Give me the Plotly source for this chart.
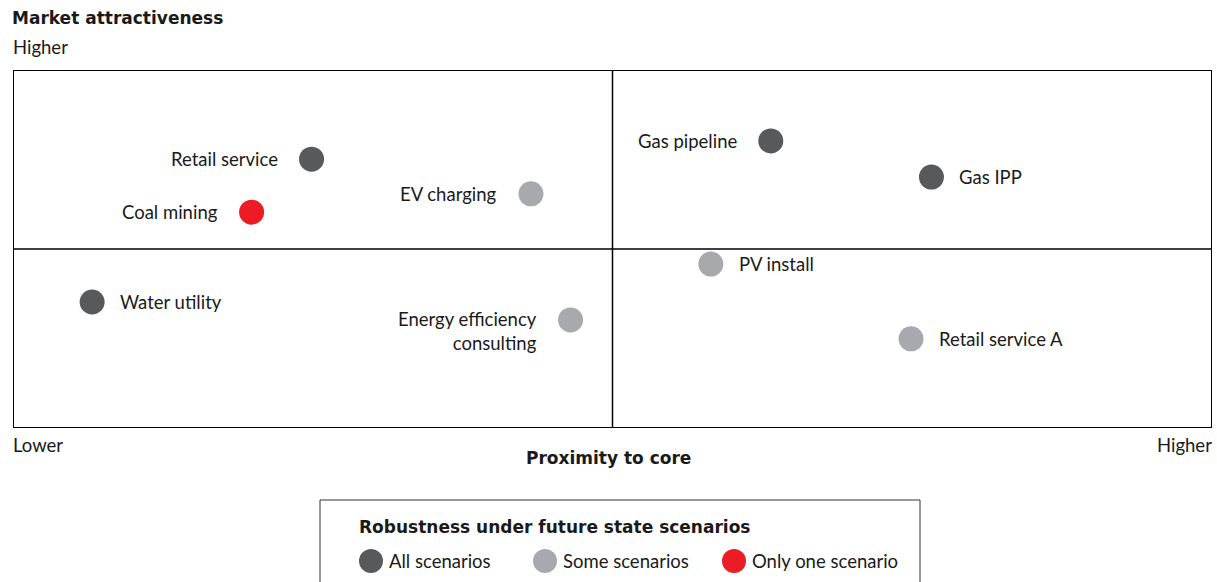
import plotly.graph_objects as go

# ---- data ----
names = ["Retail service", "Coal mining", "EV charging", "Gas pipeline", "Gas IPP",
         "Water utility", "Energy efficiency<br>consulting", "PV install", "Retail service A"]
proximity = [24.9, 19.9, 43.2, 63.2, 76.6, 6.6, 46.5, 58.2, 74.9]
attractiveness = [75.1, 60.3, 65.4, 80.2, 70.1, 35.2, 30.2, 45.8, 24.9]
robustness = ["All", "Only one", "Some", "All", "All", "All", "Some", "Some", "Some"]
label_side = ["left", "left", "left", "left", "right", "right", "left", "right", "right"]

legend_keys = ["All", "Some", "Only one"]
legend_labels = ["All scenarios", "Some scenarios", "Only one scenario"]

colors = {"All": "#58595b", "Some": "#a7a9ac", "Only one": "#ed1c24"}

W, H = 1217, 582
FONT = "Lato"
BOLD = "DejaVu Sans"
TXT = "#1a1a1a"
FS = 18.5

fig = go.Figure()

fig.add_trace(go.Scatter(
    x=proximity, y=attractiveness, mode="markers",
    marker=dict(size=25, color=[colors[r] for r in robustness], line=dict(width=0)),
    hoverinfo="text", hovertext=[n.replace("<br>", " ") for n in names],
    showlegend=False, cliponaxis=False))

annotations = []
for n, xv, yv, side in zip(names, proximity, attractiveness, label_side):
    nlines = n.count("<br>") + 1
    annotations.append(dict(
        x=xv, y=yv, xref="x", yref="y", text=n, showarrow=False,
        xanchor="right" if side == "left" else "left",
        align="right" if side == "left" else "left",
        xshift=-32 if side == "left" else 26,
        yshift=-(nlines - 1) * 11, yanchor="middle",
        font=dict(family=FONT, size=FS, color=TXT)))

def px(x): return x / W
def py(y): return 1 - y / H

annotations += [
    dict(x=px(13), y=py(18), xref="paper", yref="paper", text="<b>Market attractiveness</b>",
         showarrow=False, xanchor="left", yanchor="middle", xshift=-3,
         font=dict(family=BOLD, size=17, color=TXT)),
    dict(x=px(13), y=py(47), xref="paper", yref="paper", text="Higher",
         showarrow=False, xanchor="left", yanchor="middle", xshift=-2,
         font=dict(family=FONT, size=FS, color=TXT)),
    dict(x=px(13), y=py(445), xref="paper", yref="paper", text="Lower",
         showarrow=False, xanchor="left", yanchor="middle", xshift=-2,
         font=dict(family=FONT, size=FS, color=TXT)),
    dict(x=px(1212), y=py(445), xref="paper", yref="paper", text="Higher",
         showarrow=False, xanchor="right", yanchor="middle", xshift=2,
         font=dict(family=FONT, size=FS, color=TXT)),
    dict(x=px(608), y=py(458), xref="paper", yref="paper", text="<b>Proximity to core</b>",
         showarrow=False, xanchor="center", yanchor="middle",
         font=dict(family=BOLD, size=17, color=TXT)),
    dict(x=px(359), y=py(527), xref="paper", yref="paper",
         text="<b>Robustness under future state scenarios</b>",
         showarrow=False, xanchor="left", yanchor="middle", xshift=-2,
         font=dict(family=BOLD, size=17, color=TXT)),
]

# legend (manual, drawn on a full-figure pixel axis)
leg_marker_x = [371, 545, 734]
leg_y = 561
fig.add_trace(go.Scatter(
    x=leg_marker_x, y=[leg_y] * 3, xaxis="x2", yaxis="y2", mode="markers",
    marker=dict(size=24, color=[colors[k] for k in legend_keys], line=dict(width=0)),
    hoverinfo="skip", showlegend=False, cliponaxis=False))
for mx, lab in zip(leg_marker_x, legend_labels):
    annotations.append(dict(
        x=px(mx + 16), y=py(leg_y), xref="paper", yref="paper", text=lab,
        showarrow=False, xanchor="left", yanchor="middle",
        font=dict(family=FONT, size=FS, color=TXT)))

shapes = [
    dict(type="rect", xref="x", yref="y", x0=0, x1=100, y0=0, y1=100,
         line=dict(color="#000000", width=2)),
    dict(type="line", xref="x", yref="y", x0=50, x1=50, y0=0, y1=100,
         line=dict(color="#000000", width=1.5)),
    dict(type="line", xref="x", yref="y", x0=0, x1=100, y0=50, y1=50,
         line=dict(color="#000000", width=1.5)),
    dict(type="rect", xref="paper", yref="paper", x0=px(320), x1=px(920), y0=py(620), y1=py(500),
         line=dict(color="#333333", width=1)),
]

fig.update_layout(
    width=W, height=H, margin=dict(l=0, r=0, t=0, b=0),
    paper_bgcolor="white", plot_bgcolor="rgba(0,0,0,0)",
    xaxis=dict(domain=[13 / W, 1212 / W], range=[0, 100], visible=False, fixedrange=True),
    yaxis=dict(domain=[1 - 428 / H, 1 - 70 / H], range=[0, 100], visible=False, fixedrange=True),
    xaxis2=dict(domain=[0, 1], range=[0, W], visible=False, anchor="y2", fixedrange=True),
    yaxis2=dict(domain=[0, 1], range=[H, 0], visible=False, anchor="x2", fixedrange=True),
    annotations=annotations, shapes=shapes, showlegend=False,
    font=dict(family=FONT),
)

fig.write_html("out.html", config={"displayModeBar": False},
               post_script="document.body.style.margin='0';")
